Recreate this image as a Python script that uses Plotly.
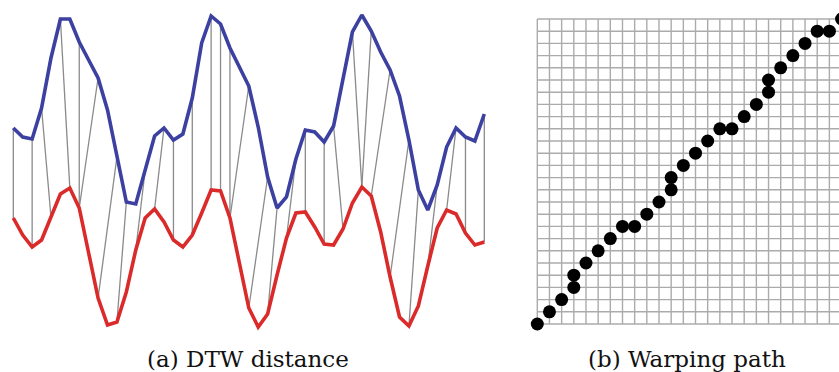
import plotly.graph_objects as go

# Two time series (query on top, reference below), sampled at 51 steps
query = [2.02, 1.93, 1.91, 2.22, 2.72, 3.11, 3.11, 2.88, 2.70, 2.52,
         2.20, 1.73, 1.28, 1.26, 1.60, 1.94, 2.02, 1.90, 1.96, 2.32,
         2.87, 3.14, 3.06, 2.82, 2.63, 2.44, 2.03, 1.53, 1.22, 1.33,
         1.71, 2.00, 1.98, 1.88, 2.04, 2.52, 2.98, 3.15, 2.99, 2.78,
         2.60, 2.34, 1.90, 1.40, 1.20, 1.45, 1.83, 2.02, 1.93, 1.89,
         2.16]
reference = [1.12, 0.95, 0.83, 0.90, 1.13, 1.36, 1.42, 1.22, 0.77, 0.32,
             0.05, 0.08, 0.38, 0.80, 1.12, 1.21, 1.08, 0.90, 0.83, 0.95,
             1.17, 1.40, 1.39, 1.12, 0.67, 0.22, 0.03, 0.16, 0.55, 0.92,
             1.17, 1.18, 1.03, 0.86, 0.85, 1.01, 1.27, 1.43, 1.34, 0.98,
             0.53, 0.13, 0.04, 0.24, 0.64, 1.02, 1.20, 1.16, 0.97, 0.85,
             0.88]

# Matched index pairs drawn as connectors (query index, reference index)
match_q = [0, 2, 3, 5, 7, 9, 11, 12, 14, 16, 17, 19, 21, 22, 23, 25, 27, 28,
           30, 31, 33, 34, 36, 38, 40, 42, 43, 45, 47, 48, 50]
match_r = [0, 2, 4, 6, 7, 7, 9, 11, 13, 15, 17, 19, 21, 22, 23, 23, 25, 27,
           29, 31, 33, 35, 37, 37, 38, 40, 42, 44, 46, 48, 50]

# Warping path on the 25 x 25 cost grid
path_i = [0, 1, 2, 3, 3, 4, 5, 6, 7, 8, 9, 10, 11, 11, 12, 13, 14, 15, 16,
          17, 18, 19, 19, 20, 21, 22, 23, 24, 25]
path_j = [0, 1, 2, 3, 4, 5, 6, 7, 8, 8, 9, 10, 11, 12, 13, 14, 15, 16, 16,
          17, 18, 19, 20, 21, 22, 23, 24, 24, 25]
grid_n = 25

titles = ["(a) DTW distance", "(b) Warping path"]

W, H = 839, 372
fig = go.Figure()

# ---- panel (a): series and alignment connectors ----
t = list(range(len(query)))
cx, cy = [], []
for q, r in zip(match_q, match_r):
    cx += [q, r, None]
    cy += [query[q], reference[r], None]
fig.add_trace(go.Scatter(x=cx, y=cy, mode="lines",
                         line=dict(color="#8a8a8a", width=1.3),
                         xaxis="x", yaxis="y", hoverinfo="skip"))
fig.add_trace(go.Scatter(x=t, y=query, mode="lines",
                         line=dict(color="#3c40a0", width=3.6),
                         xaxis="x", yaxis="y"))
fig.add_trace(go.Scatter(x=t, y=reference, mode="lines",
                         line=dict(color="#db2a2a", width=3.6),
                         xaxis="x", yaxis="y"))

# ---- panel (b): grid and warping path ----
gx, gy = [], []
for k in range(grid_n + 1):
    gx += [k, k, None, 0, grid_n, None]
    gy += [0, grid_n, None, k, k, None]
fig.add_trace(go.Scatter(x=gx, y=gy, mode="lines",
                         line=dict(color="#ababab", width=1.4),
                         xaxis="x2", yaxis="y2", hoverinfo="skip"))
# markers stay clipped to the panel, so the last one is cut at the page edge
fig.add_trace(go.Scatter(x=path_i, y=path_j, mode="markers",
                         marker=dict(color="black", size=13),
                         cliponaxis=True, xaxis="x2", yaxis="y2"))

# axis ranges expressed through pixel scales
a_dx = 9.42          # px per time step
a_x0 = 13.3          # px of first sample
a_dom = [0, 500 / W]
a_r0 = -a_x0 / a_dx
a_r1 = a_r0 + 500 / a_dx

a_dy = 100.0         # px per value unit
a_top = 3.30
b_dx = 12.17
b_x0 = 537.3
b_dom = [520 / W, 1]
b_r0 = (520 - b_x0) / b_dx
b_r1 = b_r0 + (W - 520) / b_dx
b_dy = 12.2
b_bottom = 324
b_y0 = -(H - b_bottom) / b_dy
b_y1 = b_y0 + H / b_dy

hidden = dict(showgrid=False, zeroline=False, showticklabels=False,
              showline=False, ticks="", fixedrange=True)
fig.update_layout(
    width=W, height=H,
    margin=dict(l=0, r=0, t=0, b=0),
    paper_bgcolor="white", plot_bgcolor="rgba(0,0,0,0)",
    showlegend=False,
    xaxis=dict(domain=a_dom, range=[a_r0, a_r1], **hidden),
    yaxis=dict(domain=[0, 1], range=[a_top - H / a_dy, a_top], **hidden),
    xaxis2=dict(domain=b_dom, range=[b_r0, b_r1], anchor="y2", **hidden),
    yaxis2=dict(domain=[0, 1], range=[b_y0, b_y1], anchor="x2", **hidden),
)

for text, cxp in zip(titles, [247.5, 687]):
    fig.add_annotation(text=text, x=cxp / W, y=1 - 359 / H,
                       xref="paper", yref="paper", showarrow=False,
                       xanchor="center", yanchor="middle",
                       font=dict(family="DejaVu Serif", size=23, color="#111"))

fig.write_html("out.html")
